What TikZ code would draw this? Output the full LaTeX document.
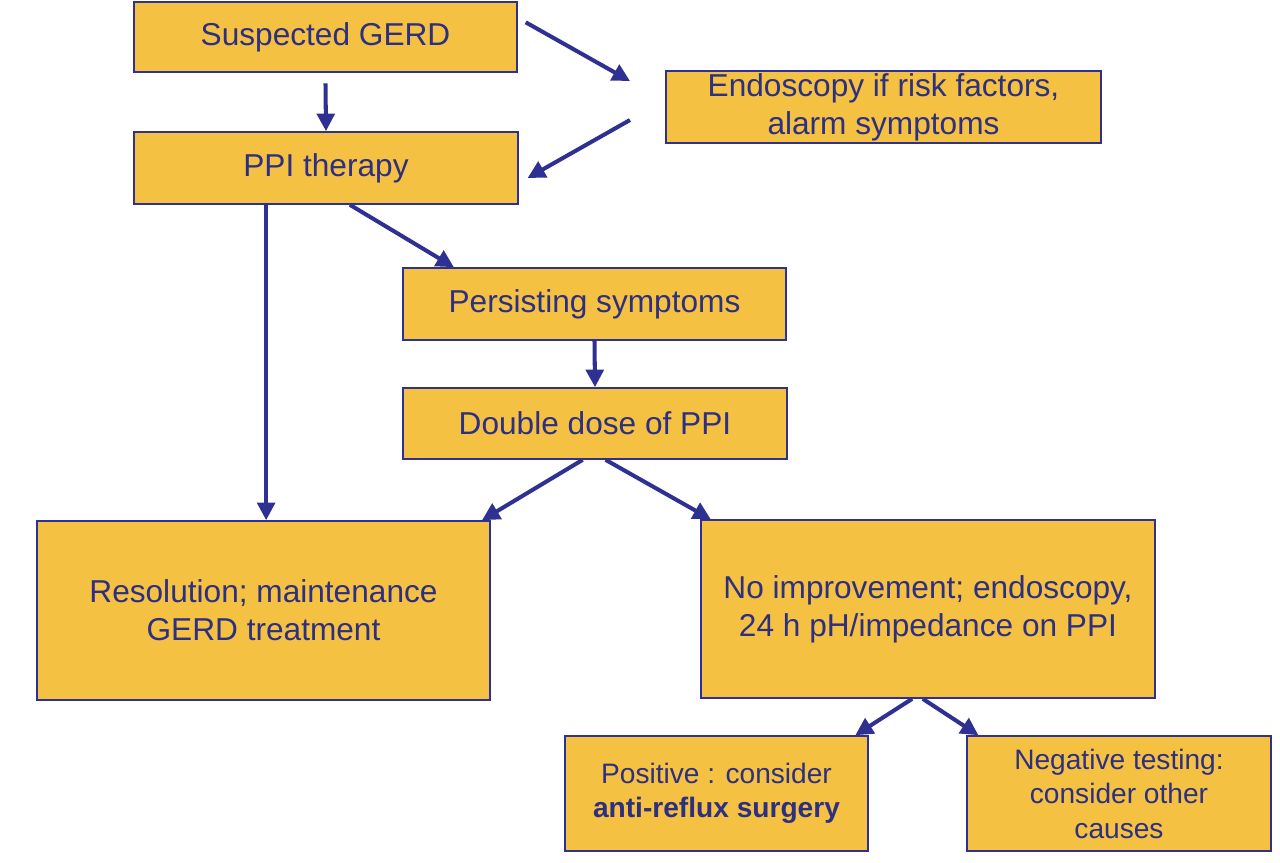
\documentclass[tikz,border=0pt]{standalone}
\usepackage{fontspec}
\setmainfont{Liberation Sans}
\usetikzlibrary{positioning,arrows.meta}
\definecolor{boxfill}{HTML}{F4C143}
\definecolor{navy}{HTML}{2E3192}
\definecolor{inktext}{HTML}{2D2F80}

\begin{document}
\begin{tikzpicture}[x=0.2mm, y=-0.2mm,
    box/.style={draw=navy, line width=0.9pt, fill=boxfill, text=inktext,
      align=center, inner sep=0pt, font=\fontsize{18}{21.5}\selectfont},
    smallbox/.style={box, font=\fontsize{16}{19.6}\selectfont},
    flow/.style={draw=navy, line width=2.3pt, -{Triangle[length=10pt, width=10pt]}}]
    \useasboundingbox (0,0) rectangle (1280,862);

    \node(sus) [box, minimum width=7.66cm, minimum height=1.40cm] at (325.5,37) {Suspected GERD};
    \node(endo) [box, minimum width=8.70cm, minimum height=1.44cm] at (883.5,107) {Endoscopy if risk factors,\\alarm symptoms};
    \node(ppi) [box, minimum width=7.68cm, minimum height=1.44cm] at (326,168) {PPI therapy};
    \node(pers) [box, minimum width=7.66cm, minimum height=1.44cm] at (594.5,304) {Persisting symptoms};
    \node(dbl) [box, minimum width=7.68cm, minimum height=1.42cm] at (595,423.5) {Double dose of PPI};
    \node(res) [box, minimum width=9.06cm, minimum height=3.58cm] at (263.5,610.5) {Resolution; maintenance\\GERD treatment};
    \node(noimp) [box, minimum width=9.08cm, minimum height=3.56cm] at (928,609) {No improvement; endoscopy,\\24 h pH/impedance on PPI};
    \node(pos) [smallbox, minimum width=6.06cm, minimum height=2.30cm] at (716.5,793.5) {Positive : consider\\\textbf{anti-reflux surgery}};
    \node(neg) [smallbox, minimum width=6.08cm, minimum height=2.30cm] at (1119,793.5) {Negative testing:\\consider other\\causes};

    % free arrows round the endoscopy box
    \coordinate(toendo) at (630,81);
    \coordinate(fromendo) at (630,120);

    \draw[flow] ([xshift=4.5pt, yshift=-12pt]sus.north east) -- (toendo);
    \draw[flow] (fromendo) -- ([xshift=5pt, yshift=-5.7pt]ppi.east);
    \draw[flow] ([yshift=-6pt]sus.south) -- (ppi.north);
    \draw[flow] ([xshift=1.5pt]ppi.south -| res.north) -- ([xshift=1.5pt]res.north);
    \draw[flow] ([xshift=13.6pt]ppi.south) -- ([xshift=-80pt]pers.north);
    \draw[flow] (pers.south) -- (dbl.north);
    \draw[flow] ([xshift=-7pt]dbl.south) -- ([xshift=-5pt]res.north east);
    \draw[flow] ([xshift=6pt]dbl.south) -- ([xshift=6pt]noimp.north west);
    \draw[flow] ([xshift=-9pt]noimp.south) -- ([xshift=79pt]pos.north);
    \draw[flow] ([xshift=-3pt]noimp.south) -- ([xshift=-80pt]neg.north);
\end{tikzpicture}
\end{document}
